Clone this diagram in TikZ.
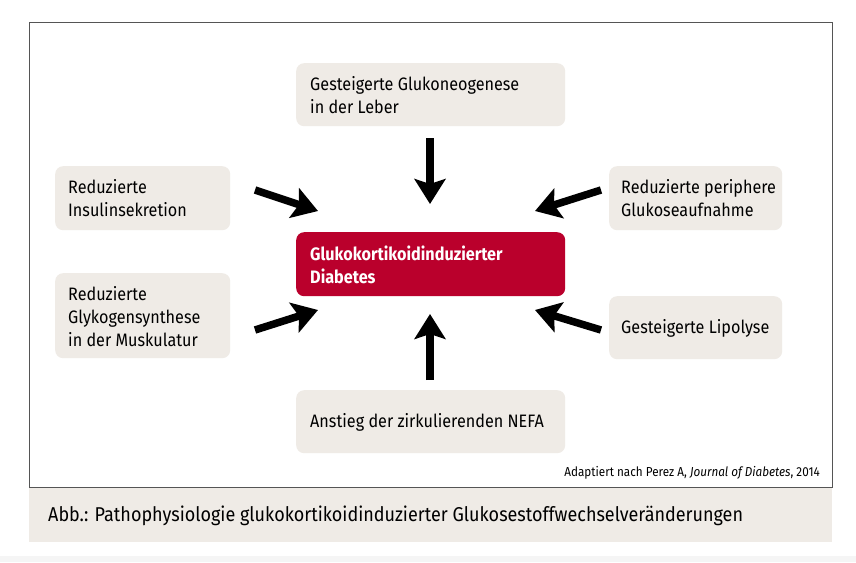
\documentclass[tikz,border=0pt]{standalone}
\usepackage{fontspec}
\setmainfont{Fira Sans}[FakeStretch=0.9]
\usetikzlibrary{arrows.meta}
\definecolor{beige}{HTML}{EFEBE6}
\definecolor{darkred}{HTML}{BA002C}
\definecolor{framegray}{HTML}{555555}
\tikzset{
  x=1pt,y=-1pt,
  box/.style={fill=beige, rounded corners=8pt, inner sep=0pt, anchor=north west},
  boxtext/.style={anchor=west, align=left, inner sep=0pt, font=\fontsize{18}{23}\selectfont},
  bigarrow/.style={line width=7.5pt, -{Stealth[length=25pt,width=31pt,inset=5pt]}},
}
\begin{document}
\begin{tikzpicture}
\useasboundingbox (0,0) rectangle (856,562);
\fill[white] (0,0) rectangle (856,562);
\fill[black!4] (0,556) rectangle (856,562);
% frame
\draw[framegray, line width=1pt] (29,22) rectangle (832,487);
\fill[beige] (29,487.5) rectangle (832,542);
\node[anchor=west, inner sep=0pt, font=\fontsize{20}{24}\selectfont] (cap) at (48,516) {Abb.: Pathophysiologie glukokortikoidinduzierter Glukosestoffwechselveränderungen};
\node[anchor=east, inner sep=0pt, font=\fontsize{13}{15}\selectfont] (src) at (820,473) {Adaptiert nach Perez A, \textit{Journal of Diabetes}, 2014};
% boxes
\node[box, minimum width=269pt, minimum height=63pt] (top) at (296,63) {};
\node[boxtext] (toptx) at (310,95) {Gesteigerte Glukoneogenese\\in der Leber};
\node[box, minimum width=175pt, minimum height=64pt] (lu) at (55,166) {};
\node[boxtext] (lutx) at (68,198.5) {Reduzierte\\Insulinsekretion};
\node[box, minimum width=175pt, minimum height=85pt] (ll) at (55,273) {};
\node[boxtext] (lltx) at (68,317) {Reduzierte\\Glykogensynthese\\in der Muskulatur};
\node[box, minimum width=173pt, minimum height=64pt] (ru) at (609,166) {};
\node[boxtext] (rutx) at (621,198.5) {Reduzierte periphere\\Glukoseaufnahme};
\node[box, minimum width=173pt, minimum height=63pt] (rl) at (609,296) {};
\node[boxtext] (rltx) at (621,328.5) {Gesteigerte Lipolyse};
\node[box, minimum width=269pt, minimum height=63pt] (bot) at (296,390) {};
\node[boxtext] (bottx) at (310,422.5) {Anstieg der zirkulierenden NEFA};
% center
\node[fill=darkred, rounded corners=8pt, anchor=north west, minimum width=269pt, minimum height=64pt, inner sep=0pt] (ctr) at (296,232) {};
\node[boxtext, text=white, font=\bfseries\fontsize{18}{23}\selectfont] (ctrtx) at (310,265) {Glukokortikoidinduzierter\\Diabetes};
% arrow anchors
\coordinate (a1s) at (430,138); \coordinate (a1e) at (430,204);
\coordinate (a2s) at (430,380); \coordinate (a2e) at (430,314);
\coordinate (a3s) at (255,190); \coordinate (a3e) at (318,211);
\coordinate (a4s) at (255,330); \coordinate (a4e) at (318,310);
\coordinate (a5s) at (601,190); \coordinate (a5e) at (535,211);
\coordinate (a6s) at (601,330); \coordinate (a6e) at (535,310);
\draw[bigarrow] (a1s) -- (a1e);
\draw[bigarrow] (a2s) -- (a2e);
\draw[bigarrow] (a3s) -- (a3e);
\draw[bigarrow] (a4s) -- (a4e);
\draw[bigarrow] (a5s) -- (a5e);
\draw[bigarrow] (a6s) -- (a6e);
\end{tikzpicture}
\end{document}
